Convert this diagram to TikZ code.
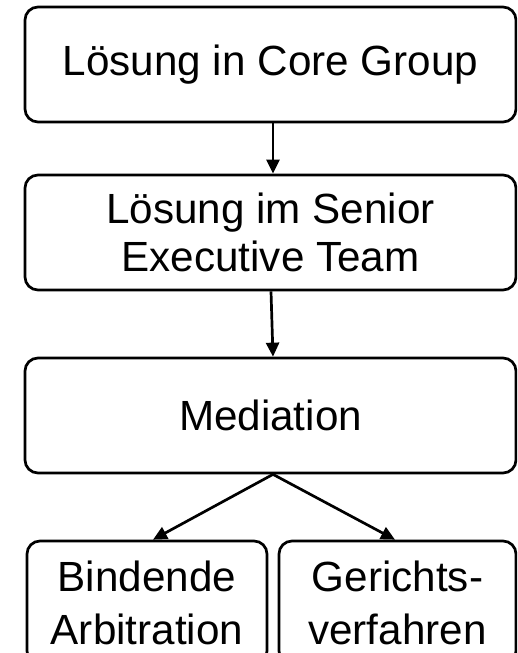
\documentclass[tikz,border=0pt]{standalone}
\usepackage{fontspec}
\setmainfont{Liberation Sans}
\usetikzlibrary{arrows.meta}
\begin{document}
\begin{tikzpicture}[x=1pt,y=-1pt,
  box/.style={draw=black, line width=2.7pt, rounded corners=13pt, inner sep=0pt,
    align=center, minimum height=115pt, font=\fontsize{42.2}{48}\selectfont},
  wide/.style={box, minimum width=491pt},
  small/.style={box, minimum height=123pt, font=\fontsize{42.2}{53}\selectfont},
  conn/.style={line width=2.7pt, -{Triangle[length=14pt,width=13pt]}}]
\clip (0,0) rectangle (517,653);
\node[wide] (b1) at (270.5,64.5) {Lösung in Core Group};
\node[wide] (b2) at (270.5,232.5) {Lösung im Senior\\Executive Team};
\node[wide] (b3) at (270.5,415.5) {Mediation};
\node[small, minimum width=240pt] (b4) at (147,602.5) {Bindende\\Arbitration};
\node[small, minimum width=237pt] (b5) at (397.5,602.5) {Gerichts-\\verfahren};
\draw[conn] ([xshift=2.5pt]b1.south) -- ([xshift=2.5pt]b2.north);
\draw[conn] ([xshift=0.5pt]b2.south) -- ([xshift=2.5pt]b3.north);
\draw[conn] ([xshift=2.5pt]b3.south) -- ([xshift=6pt]b4.north);
\draw[conn] ([xshift=2.5pt]b3.south) -- ([xshift=-2.5pt]b5.north);
\end{tikzpicture}
\end{document}
